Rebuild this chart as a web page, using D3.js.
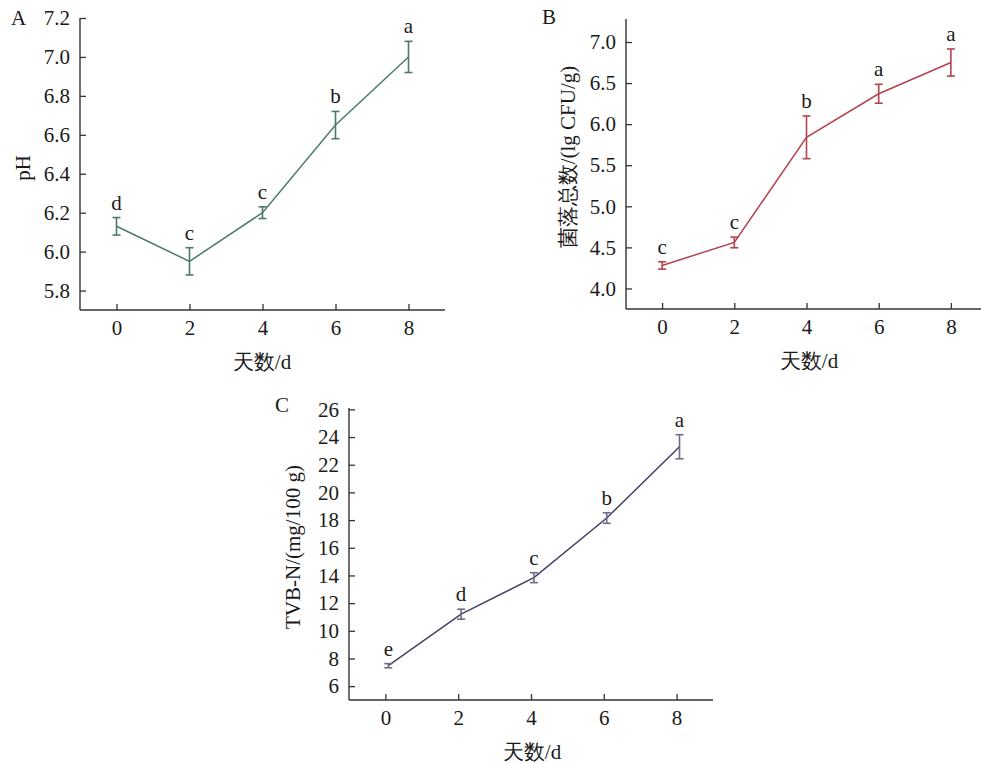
<!DOCTYPE html>
<html><head><meta charset="utf-8">
<script src="https://cdn.jsdelivr.net/npm/d3@7/dist/d3.min.js"></script>
<style>body{margin:0;background:#fff}svg{display:block}text{font-family:"Liberation Serif","Times New Roman",serif;fill:#1a1a1a}</style>
</head><body><svg id="c" width="981" height="764"></svg>
<script>
const days = [0, 2, 4, 6, 8];
const xTicks = [0, 2, 4, 6, 8];

const phMean = [6.13, 5.95, 6.20, 6.65, 7.00];
const phErr = [0.045, 0.07, 0.03, 0.07, 0.08];
const phLetters = ["d", "c", "c", "b", "a"];
const phTicks = [5.8, 6.0, 6.2, 6.4, 6.6, 6.8, 7.0, 7.2];

const cfuMean = [4.28, 4.56, 5.84, 6.37, 6.75];
const cfuErr = [0.045, 0.065, 0.26, 0.115, 0.165];
const cfuLetters = ["c", "c", "b", "a", "a"];
const cfuTicks = [4.0, 4.5, 5.0, 5.5, 6.0, 6.5, 7.0];

const tvbMean = [7.48, 11.2, 13.84, 18.15, 23.3];
const tvbErr = [0.15, 0.36, 0.36, 0.38, 0.87];
const tvbLetters = ["e", "d", "c", "b", "a"];
const tvbTicks = [6, 8, 10, 12, 14, 16, 18, 20, 22, 24, 26];

const svg = d3.select("#c");
const FS = 21;

function panel(o) {
  const g = svg.append("g");
  const x = d3.scaleLinear().domain([-1, 9]).range([o.left, o.right]);
  const y = d3.scaleLinear().domain(o.yDomain).range([o.bottom, o.top]);
  const ax = "#333";
  const xa = g.append("g").attr("transform", `translate(0,${o.bottom})`)
    .call(d3.axisBottom(x).tickValues(xTicks).tickSize(-6).tickPadding(10).tickFormat(d3.format("d")));
  const ya = g.append("g").attr("transform", `translate(${o.left},0)`)
    .call(d3.axisLeft(y).tickValues(o.yTicks).tickSize(-6).tickPadding(10).tickFormat(d3.format(o.fmt)));
  [xa, ya].forEach(a => {
    a.attr("font-family", null).attr("font-size", null);
    a.select(".domain").attr("stroke", ax).attr("stroke-width", 1.4);
    a.selectAll(".tick line").attr("stroke", ax).attr("stroke-width", 1.3);
    a.selectAll(".tick text").attr("font-size", FS).attr("fill", "#1a1a1a");
  });
  ya.select(".domain").attr("d", `M0,${o.bottom}V${o.top}`);
  xa.select(".domain").attr("d", `M${o.left},0H${o.right}`);
  const px = d => x(d + (o.shift || 0));
  const data = days.map((d, i) => ({d, m: o.mean[i], e: o.err[i], l: o.letters[i]}));
  g.append("path").datum(data)
    .attr("d", d3.line().x(p => px(p.d)).y(p => y(p.m)))
    .attr("fill", "none").attr("stroke", o.color).attr("stroke-width", 1.5);
  const eb = g.selectAll(".eb").data(data).enter().append("g").attr("stroke", o.errColor).attr("stroke-width", 1.6);
  eb.append("line").attr("x1", p => px(p.d)).attr("x2", p => px(p.d))
    .attr("y1", p => y(p.m - p.e)).attr("y2", p => y(p.m + p.e));
  eb.append("line").attr("x1", p => px(p.d) - 4).attr("x2", p => px(p.d) + 4)
    .attr("y1", p => y(p.m - p.e)).attr("y2", p => y(p.m - p.e));
  eb.append("line").attr("x1", p => px(p.d) - 4).attr("x2", p => px(p.d) + 4)
    .attr("y1", p => y(p.m + p.e)).attr("y2", p => y(p.m + p.e));
  g.selectAll(".lt").data(data).enter().append("text")
    .attr("x", p => px(p.d))
    .attr("y", p => y(p.m + p.e) - 8)
    .attr("text-anchor", "middle").attr("font-size", FS).text(p => p.l);
  g.append("text").attr("x", o.panelX).attr("y", o.panelY).attr("font-size", FS).text(o.panel);
  g.append("text").attr("x", o.xTitleX).attr("y", o.bottom + 59)
    .attr("text-anchor", "middle").attr("font-size", FS).text("天数/d");
  g.append("text").attr("transform", `translate(${o.yTitleX},${o.yTitleY}) rotate(-90)`)
    .attr("text-anchor", "middle").attr("dominant-baseline", "central")
    .attr("font-size", FS).text(o.yTitle);
}

panel({left: 80, right: 445, top: 18, bottom: 310, yDomain: [5.7, 7.2], yTicks: phTicks, fmt: ".1f",
  mean: phMean, err: phErr, letters: phLetters, color: "#4b7b67", errColor: "#4b7b67",
  panel: "A", panelX: 11, panelY: 25, xTitleX: 262, yTitleX: 23, yTitleY: 168, yTitle: "pH"});

panel({left: 626, right: 987, top: 19, bottom: 309, yDomain: [3.75, 7.28], yTicks: cfuTicks, fmt: ".1f",
  mean: cfuMean, err: cfuErr, letters: cfuLetters, color: "#b4434f", errColor: "#b4434f",
  panel: "B", panelX: 542, panelY: 24, xTitleX: 809, yTitleX: 568, yTitleY: 157, yTitle: "菌落总数/(lg CFU/g)"});

panel({left: 349, right: 713, top: 408, bottom: 700, yDomain: [5, 26.1], yTicks: tvbTicks, fmt: "d",
  mean: tvbMean, err: tvbErr, letters: tvbLetters, color: "#42406a", errColor: "#6d6b86", shift: 0.08,
  panel: "C", panelX: 275, panelY: 412, xTitleX: 532, yTitleX: 293, yTitleY: 547, yTitle: "TVB-N/(mg/100 g)"});
</script></body></html>
